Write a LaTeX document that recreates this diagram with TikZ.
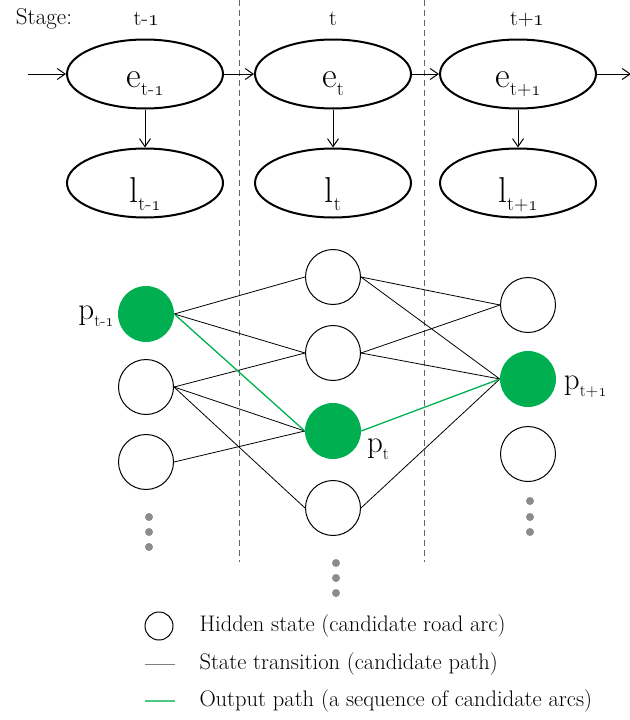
\RequirePackage{fix-cm}
\documentclass[tikz,border=0pt]{standalone}
\usepackage{amsmath}
\usepackage{amsfonts}
\usepackage{amssymb}
\usepackage{tikz}
\usetikzlibrary{shapes.geometric, arrows.meta}

\definecolor{pathgreen}{RGB}{0,176,80}
\newcommand{\one}{\oldstylenums{1}}
\newcommand{\lsub}[1]{\raisebox{-0.24em}{\scalebox{0.55}{#1}}}

\tikzset{
	obs/.style={ellipse, draw, line width=2pt, minimum width=156pt, minimum height=69pt, inner sep=0pt, text height=30pt, text depth=4pt, font=\fontsize{36}{38}\selectfont},
	cand/.style={circle, draw, line width=1pt, minimum size=55pt, inner sep=0pt},
	picked/.style={circle, fill=pathgreen, minimum size=56pt, inner sep=0pt},
	moredot/.style={circle, fill=gray!90, minimum size=8pt, inner sep=0pt},
	plabel/.style={font=\fontsize{31}{33}\selectfont},
	legtext/.style={anchor=west, font=\fontsize{22.5}{24}\selectfont},
	stagetext/.style={font=\fontsize{22}{24}\selectfont},
	flow/.style={-{Straight Barb[length=8pt, width=11pt]}, line width=1pt},
	trans/.style={line width=0.8pt},
	outpath/.style={pathgreen, line width=1.3pt},
}

\begin{document}
\begin{tikzpicture}[x=1pt, y=-1pt]
		
		\useasboundingbox (0,0) rectangle (629,720);
		
		% Stage separators
		
		\draw[dashed, dash pattern=on 6pt off 4pt, gray!80!black, line width=1pt] (239,0) -- (239,562);
		\draw[dashed, dash pattern=on 6pt off 4pt, gray!80!black, line width=1pt] (424,0) -- (424,562);
		
		\node[font=\fontsize{23}{25}\selectfont] (stage) at (44,19) {Stage:};
		\node[stagetext] (s1) at (146,19) {t-\one};
		\node[stagetext] (s2) at (333,19) {t};
		\node[stagetext] (s3) at (527,19) {t+\one};
		
		% Node
		
		\node[obs] (e1) at (145,74) {e\lsub{t-\one}};
		\node[obs] (e2) at (333,74) {e\lsub{t}};
		\node[obs] (e3) at (518,74) {e\lsub{t+\one}};
		
		\node[obs, text height=42pt] (l1) at (145,183) {l\lsub{t-\one}};
		\node[obs, text height=42pt] (l2) at (333,183) {l\lsub{t}};
		\node[obs, text height=42pt] (l3) at (518,183) {l\lsub{t+\one}};
		
		\coordinate (in) at (28,74);
		\coordinate (out) at (631,74);
		
		% EDGE
		
		\draw[flow] (in) -- (e1);
		\draw[flow] (e1) -- (e2);
		\draw[flow] (e2) -- (e3);
		\draw[flow] (e3) -- (out);
		\draw[flow] (e1) -- (l1);
		\draw[flow] (e2) -- (l2);
		\draw[flow] (e3) -- (l3);
		
		% Candidates
		
		\node[picked] (a1) at (146,314) {};
		\node[cand]   (a2) at (146,387) {};
		\node[cand]   (a3) at (146,462) {};
		
		\node[cand]   (b1) at (333,277) {};
		\node[cand]   (b2) at (333,353) {};
		\node[picked] (b3) at (333,431) {};
		\node[cand]   (b4) at (333,508) {};
		
		\node[cand]   (c1) at (528,305) {};
		\node[picked] (c2) at (528,379) {};
		\node[cand]   (c3) at (528,454) {};
		
		\node[plabel] (pa) at (96,316) {p\lsub{t-\one}};
		\node[plabel] (pb) at (378,449) {p\lsub{t}};
		\node[plabel] (pc) at (585,387) {p\lsub{t+\one}};
		
		% more candidates
		
		\foreach \y in {517,532,547} \node[moredot] at (149,\y) {};
		\foreach \y in {563,578,593} \node[moredot] at (336,\y) {};
		\foreach \y in {501,517,532} \node[moredot] at (530,\y) {};
		
		% Transitions
		
		\draw[trans] (a1.east) -- (b1.west);
		\draw[trans] (a1.east) -- (b2.west);
		\draw[trans] (a2.east) -- (b2.west);
		\draw[trans] (a2.east) -- (b3.west);
		\draw[trans] (a2.east) -- (b4.west);
		\draw[trans] (a3.east) -- (b3.west);
		
		\draw[trans] (b1.east) -- (c1.west);
		\draw[trans] (b1.east) -- (c2.west);
		\draw[trans] (b2.east) -- (c1.west);
		\draw[trans] (b2.east) -- (c2.west);
		\draw[trans] (b4.east) -- (c2.west);
		
		\draw[outpath] (a1.east) -- (b3.west);
		\draw[outpath] (b3.east) -- (c2.west);
		
		%legend
		
		\node[circle, draw, line width=1pt, minimum size=28pt, inner sep=0pt] (leg1) at (159,626) {};
		\coordinate (leg2a) at (145,664);
		\coordinate (leg2b) at (175,664);
		\coordinate (leg3a) at (145,701);
		\coordinate (leg3b) at (175,701);
		\draw[gray, line width=1pt] (leg2a) -- (leg2b);
		\draw[pathgreen!70, line width=1.2pt] (leg3a) -- (leg3b);
		
		\node[legtext] (txt1) at (196,626) {Hidden state (candidate road arc)};
		\node[legtext] (txt2) at (196,664) {State transition (candidate path)};
		\node[legtext] (txt3) at (196,701) {Output path (a sequence of candidate arcs)};
		
	\end{tikzpicture}
\end{document}
